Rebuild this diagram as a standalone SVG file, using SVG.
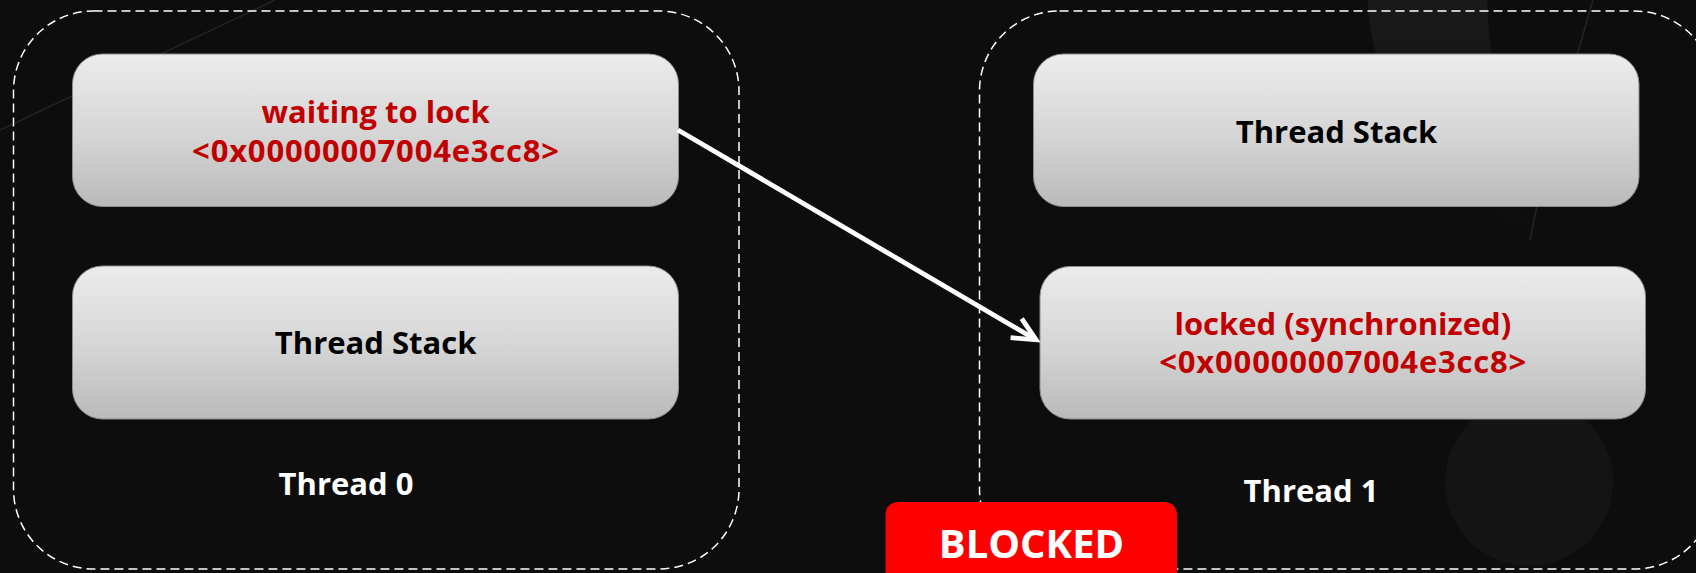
<svg xmlns="http://www.w3.org/2000/svg" width="1696" height="573" viewBox="0 0 1696 573">
  <style>
    .cont { fill: none; stroke: #ffffff; stroke-width: 1.5; stroke-dasharray: 9 5; }
    .node { fill: url(#nodeGrad); stroke: #8c8c8c; stroke-width: 1; }
    .t { font-family: "Open Sans", "Liberation Sans", sans-serif; font-weight: 700; font-size: 31px; text-anchor: middle; }
    .red { fill: #c00000; }
    .blk { fill: #000000; }
    .wht { fill: #ffffff; }
    .conn { stroke: #ffffff; stroke-width: 4.8; fill: none; }
    .deco { fill: none; stroke: #242424; stroke-width: 1.5; }
  </style>
  <defs>
    <linearGradient id="nodeGrad" x1="0" y1="0" x2="0" y2="1">
      <stop offset="0" stop-color="#ececec"/>
      <stop offset="0.55" stop-color="#d4d4d4"/>
      <stop offset="1" stop-color="#bababa"/>
    </linearGradient>
    <linearGradient id="dropGrad" x1="0" y1="0" x2="0" y2="1">
      <stop offset="0" stop-color="#1a1a1a"/>
      <stop offset="1" stop-color="#0d0d0d"/>
    </linearGradient>
    <marker id="ah" markerUnits="userSpaceOnUse" viewBox="-30 -16 36 32" refX="0" refY="0" markerWidth="36" markerHeight="32" orient="auto">
      <path d="M-23,-11 L0,0 L-23,11" fill="none" stroke="#ffffff" stroke-width="4.8" stroke-linejoin="miter"/>
    </marker>
  </defs>

  <rect x="0" y="0" width="1696" height="573" fill="#0d0d0d"/>
  <path d="M1368,0 C1368,110 1470,190 1530,240 C1505,150 1490,70 1487,0 Z" fill="url(#dropGrad)"/>
  <path class="deco" d="M1593,0 C1570,80 1545,160 1530,240"/>
  <circle cx="1529" cy="482" r="84" fill="#141414"/>
  <line class="deco" x1="0" y1="130" x2="275" y2="0"/>

  <g id="thread0">
    <rect class="cont" x="13.5" y="11" width="725.5" height="558" rx="80" ry="80"/>
    <text class="t wht" x="346" y="495">Thread 0</text>
  </g>

  <g id="thread1">
    <rect class="cont" x="979.5" y="11" width="735" height="558" rx="80" ry="80"/>
    <text class="t wht" x="1311" y="502">Thread 1</text>
  </g>

  <g id="waiting">
    <rect class="node" x="72.5" y="54" width="606" height="152.5" rx="30" ry="30"/>
    <text class="t red" x="375.6" y="122.7">waiting to lock</text>
    <text class="t red" x="375.6" y="161.7" textLength="367">&lt;0x00000007004e3cc8&gt;</text>
  </g>

  <g id="stack0">
    <rect class="node" x="72.5" y="266" width="606" height="153" rx="30" ry="30"/>
    <text class="t blk" x="375.6" y="354">Thread Stack</text>
  </g>

  <g id="stack1">
    <rect class="node" x="1033.5" y="54" width="605.5" height="152.5" rx="30" ry="30"/>
    <text class="t blk" x="1336.5" y="142.7">Thread Stack</text>
  </g>

  <g id="locked">
    <rect class="node" x="1040" y="266.5" width="605.5" height="152.5" rx="30" ry="30"/>
    <text class="t red" x="1342.8" y="335">locked (synchronized)</text>
    <text class="t red" x="1342.8" y="373.3" textLength="367">&lt;0x00000007004e3cc8&gt;</text>
  </g>

  <g id="blocked">
    <path d="M885.5,580 L885.5,516 Q885.5,502 899.5,502 L1163,502 Q1177,502 1177,516 L1177,580 Z" fill="#ff0000"/>
    <text class="t wht" x="1031.5" y="558" style="font-size:40px">BLOCKED</text>
  </g>

  <g id="connectors">
    <line class="conn" x1="678" y1="130" x2="1036" y2="339.8" marker-end="url(#ah)"/>
  </g>
</svg>
